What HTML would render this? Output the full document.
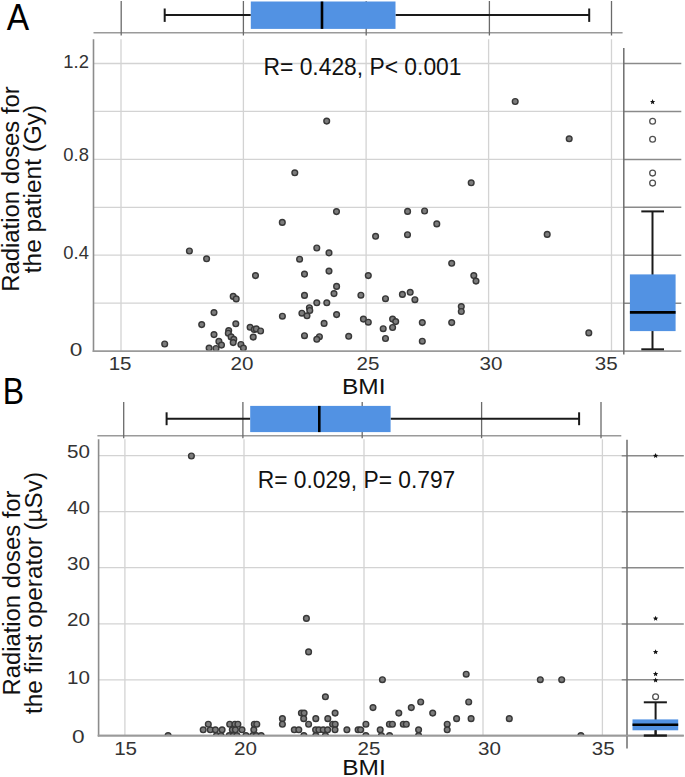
<!DOCTYPE html>
<html><head><meta charset="utf-8"><title>BMI vs radiation dose</title>
<style>html,body{margin:0;padding:0;background:#fff;}body{width:685px;height:777px;overflow:hidden;position:relative;font-family:"Liberation Sans", sans-serif;}</style>
</head><body>
<svg width="685" height="777" viewBox="0 0 685 777" style="position:absolute;left:0;top:0;font-family:"Liberation Sans", sans-serif">
<rect width="685" height="777" fill="#fff"/>
<line x1="93.5" y1="32.7" x2="622.6" y2="32.7" stroke="#9a9a9a" stroke-width="1.6"/>
<line x1="121.2" y1="1" x2="121.2" y2="35.5" stroke="#6a6a6a" stroke-width="1.3"/>
<line x1="243.4" y1="1" x2="243.4" y2="35.5" stroke="#6a6a6a" stroke-width="1.3"/>
<line x1="366.2" y1="1" x2="366.2" y2="35.5" stroke="#6a6a6a" stroke-width="1.3"/>
<line x1="489.4" y1="1" x2="489.4" y2="35.5" stroke="#6a6a6a" stroke-width="1.3"/>
<line x1="611.5" y1="1" x2="611.5" y2="35.5" stroke="#6a6a6a" stroke-width="1.3"/>
<line x1="164.7" y1="15.0" x2="250.8" y2="15.0" stroke="#1a1a1a" stroke-width="2"/>
<line x1="395.5" y1="15.0" x2="589.2" y2="15.0" stroke="#1a1a1a" stroke-width="2"/>
<line x1="164.7" y1="8.5" x2="164.7" y2="21.9" stroke="#1a1a1a" stroke-width="2"/>
<line x1="589.2" y1="8.5" x2="589.2" y2="21.9" stroke="#1a1a1a" stroke-width="2"/>
<rect x="250.8" y="1.5" width="144.7" height="27.4" fill="#5292E3"/>
<line x1="322.0" y1="1.5" x2="322.0" y2="28.9" stroke="#000" stroke-width="2.6"/>
<line x1="121.0" y1="39.3" x2="121.0" y2="351.1" stroke="#d3d3d3" stroke-width="1.3"/>
<line x1="243.4" y1="39.3" x2="243.4" y2="351.1" stroke="#d3d3d3" stroke-width="1.3"/>
<line x1="366.1" y1="39.3" x2="366.1" y2="351.1" stroke="#d3d3d3" stroke-width="1.3"/>
<line x1="488.6" y1="39.3" x2="488.6" y2="351.1" stroke="#d3d3d3" stroke-width="1.3"/>
<line x1="611.5" y1="39.3" x2="611.5" y2="351.1" stroke="#d3d3d3" stroke-width="1.3"/>
<line x1="93.5" y1="63.5" x2="623.8" y2="63.5" stroke="#d3d3d3" stroke-width="1.3"/>
<line x1="93.5" y1="111.4" x2="623.8" y2="111.4" stroke="#d3d3d3" stroke-width="1.3"/>
<line x1="93.5" y1="159.4" x2="623.8" y2="159.4" stroke="#d3d3d3" stroke-width="1.3"/>
<line x1="93.5" y1="207.3" x2="623.8" y2="207.3" stroke="#d3d3d3" stroke-width="1.3"/>
<line x1="93.5" y1="255.2" x2="623.8" y2="255.2" stroke="#d3d3d3" stroke-width="1.3"/>
<line x1="93.5" y1="303.2" x2="623.8" y2="303.2" stroke="#d3d3d3" stroke-width="1.3"/>
<circle cx="189.4" cy="251.0" r="2.85" fill="#7c7c7c" stroke="#383838" stroke-width="1.4"/>
<circle cx="206.6" cy="258.8" r="2.85" fill="#7c7c7c" stroke="#383838" stroke-width="1.4"/>
<circle cx="255.5" cy="275.6" r="2.85" fill="#7c7c7c" stroke="#383838" stroke-width="1.4"/>
<circle cx="233.2" cy="296.4" r="2.85" fill="#7c7c7c" stroke="#383838" stroke-width="1.4"/>
<circle cx="236.2" cy="298.9" r="2.85" fill="#7c7c7c" stroke="#383838" stroke-width="1.4"/>
<circle cx="214.0" cy="312.6" r="2.85" fill="#7c7c7c" stroke="#383838" stroke-width="1.4"/>
<circle cx="282.4" cy="316.2" r="2.85" fill="#7c7c7c" stroke="#383838" stroke-width="1.4"/>
<circle cx="201.7" cy="324.6" r="2.85" fill="#7c7c7c" stroke="#383838" stroke-width="1.4"/>
<circle cx="235.8" cy="323.8" r="2.85" fill="#7c7c7c" stroke="#383838" stroke-width="1.4"/>
<circle cx="214.0" cy="334.6" r="2.85" fill="#7c7c7c" stroke="#383838" stroke-width="1.4"/>
<circle cx="228.7" cy="330.6" r="2.85" fill="#7c7c7c" stroke="#383838" stroke-width="1.4"/>
<circle cx="228.3" cy="333.2" r="2.85" fill="#7c7c7c" stroke="#383838" stroke-width="1.4"/>
<circle cx="231.1" cy="336.9" r="2.85" fill="#7c7c7c" stroke="#383838" stroke-width="1.4"/>
<circle cx="233.8" cy="339.3" r="2.85" fill="#7c7c7c" stroke="#383838" stroke-width="1.4"/>
<circle cx="233.2" cy="342.6" r="2.85" fill="#7c7c7c" stroke="#383838" stroke-width="1.4"/>
<circle cx="218.9" cy="341.4" r="2.85" fill="#7c7c7c" stroke="#383838" stroke-width="1.4"/>
<circle cx="221.5" cy="345.1" r="2.85" fill="#7c7c7c" stroke="#383838" stroke-width="1.4"/>
<circle cx="209.1" cy="348.1" r="2.85" fill="#7c7c7c" stroke="#383838" stroke-width="1.4"/>
<circle cx="216.0" cy="348.5" r="2.85" fill="#7c7c7c" stroke="#383838" stroke-width="1.4"/>
<circle cx="240.9" cy="344.5" r="2.85" fill="#7c7c7c" stroke="#383838" stroke-width="1.4"/>
<circle cx="243.4" cy="348.1" r="2.85" fill="#7c7c7c" stroke="#383838" stroke-width="1.4"/>
<circle cx="250.1" cy="327.3" r="2.85" fill="#7c7c7c" stroke="#383838" stroke-width="1.4"/>
<circle cx="254.2" cy="329.5" r="2.85" fill="#7c7c7c" stroke="#383838" stroke-width="1.4"/>
<circle cx="256.3" cy="328.9" r="2.85" fill="#7c7c7c" stroke="#383838" stroke-width="1.4"/>
<circle cx="260.6" cy="331.0" r="2.85" fill="#7c7c7c" stroke="#383838" stroke-width="1.4"/>
<circle cx="253.2" cy="337.1" r="2.85" fill="#7c7c7c" stroke="#383838" stroke-width="1.4"/>
<circle cx="164.7" cy="344.0" r="2.85" fill="#7c7c7c" stroke="#383838" stroke-width="1.4"/>
<circle cx="375.6" cy="236.3" r="2.85" fill="#7c7c7c" stroke="#383838" stroke-width="1.4"/>
<circle cx="407.5" cy="234.7" r="2.85" fill="#7c7c7c" stroke="#383838" stroke-width="1.4"/>
<circle cx="316.8" cy="248.0" r="2.85" fill="#7c7c7c" stroke="#383838" stroke-width="1.4"/>
<circle cx="329.0" cy="252.9" r="2.85" fill="#7c7c7c" stroke="#383838" stroke-width="1.4"/>
<circle cx="299.6" cy="259.2" r="2.85" fill="#7c7c7c" stroke="#383838" stroke-width="1.4"/>
<circle cx="304.5" cy="274.1" r="2.85" fill="#7c7c7c" stroke="#383838" stroke-width="1.4"/>
<circle cx="329.0" cy="271.1" r="2.85" fill="#7c7c7c" stroke="#383838" stroke-width="1.4"/>
<circle cx="368.3" cy="275.6" r="2.85" fill="#7c7c7c" stroke="#383838" stroke-width="1.4"/>
<circle cx="336.6" cy="286.4" r="2.85" fill="#7c7c7c" stroke="#383838" stroke-width="1.4"/>
<circle cx="334.0" cy="293.6" r="2.85" fill="#7c7c7c" stroke="#383838" stroke-width="1.4"/>
<circle cx="304.5" cy="295.4" r="2.85" fill="#7c7c7c" stroke="#383838" stroke-width="1.4"/>
<circle cx="360.9" cy="295.2" r="2.85" fill="#7c7c7c" stroke="#383838" stroke-width="1.4"/>
<circle cx="385.5" cy="298.7" r="2.85" fill="#7c7c7c" stroke="#383838" stroke-width="1.4"/>
<circle cx="402.4" cy="294.4" r="2.85" fill="#7c7c7c" stroke="#383838" stroke-width="1.4"/>
<circle cx="410.2" cy="292.3" r="2.85" fill="#7c7c7c" stroke="#383838" stroke-width="1.4"/>
<circle cx="414.9" cy="299.7" r="2.85" fill="#7c7c7c" stroke="#383838" stroke-width="1.4"/>
<circle cx="316.8" cy="302.8" r="2.85" fill="#7c7c7c" stroke="#383838" stroke-width="1.4"/>
<circle cx="326.8" cy="302.8" r="2.85" fill="#7c7c7c" stroke="#383838" stroke-width="1.4"/>
<circle cx="309.4" cy="307.7" r="2.85" fill="#7c7c7c" stroke="#383838" stroke-width="1.4"/>
<circle cx="309.8" cy="310.5" r="2.85" fill="#7c7c7c" stroke="#383838" stroke-width="1.4"/>
<circle cx="301.9" cy="313.2" r="2.85" fill="#7c7c7c" stroke="#383838" stroke-width="1.4"/>
<circle cx="307.0" cy="315.8" r="2.85" fill="#7c7c7c" stroke="#383838" stroke-width="1.4"/>
<circle cx="336.6" cy="314.6" r="2.85" fill="#7c7c7c" stroke="#383838" stroke-width="1.4"/>
<circle cx="324.1" cy="323.4" r="2.85" fill="#7c7c7c" stroke="#383838" stroke-width="1.4"/>
<circle cx="363.4" cy="319.1" r="2.85" fill="#7c7c7c" stroke="#383838" stroke-width="1.4"/>
<circle cx="368.3" cy="322.2" r="2.85" fill="#7c7c7c" stroke="#383838" stroke-width="1.4"/>
<circle cx="392.6" cy="319.1" r="2.85" fill="#7c7c7c" stroke="#383838" stroke-width="1.4"/>
<circle cx="395.7" cy="321.6" r="2.85" fill="#7c7c7c" stroke="#383838" stroke-width="1.4"/>
<circle cx="392.6" cy="327.5" r="2.85" fill="#7c7c7c" stroke="#383838" stroke-width="1.4"/>
<circle cx="383.2" cy="328.7" r="2.85" fill="#7c7c7c" stroke="#383838" stroke-width="1.4"/>
<circle cx="304.5" cy="335.7" r="2.85" fill="#7c7c7c" stroke="#383838" stroke-width="1.4"/>
<circle cx="319.4" cy="336.7" r="2.85" fill="#7c7c7c" stroke="#383838" stroke-width="1.4"/>
<circle cx="316.8" cy="339.3" r="2.85" fill="#7c7c7c" stroke="#383838" stroke-width="1.4"/>
<circle cx="348.7" cy="336.3" r="2.85" fill="#7c7c7c" stroke="#383838" stroke-width="1.4"/>
<circle cx="385.5" cy="338.5" r="2.85" fill="#7c7c7c" stroke="#383838" stroke-width="1.4"/>
<circle cx="451.7" cy="263.3" r="2.85" fill="#7c7c7c" stroke="#383838" stroke-width="1.4"/>
<circle cx="473.8" cy="275.6" r="2.85" fill="#7c7c7c" stroke="#383838" stroke-width="1.4"/>
<circle cx="476.0" cy="281.1" r="2.85" fill="#7c7c7c" stroke="#383838" stroke-width="1.4"/>
<circle cx="461.3" cy="306.6" r="2.85" fill="#7c7c7c" stroke="#383838" stroke-width="1.4"/>
<circle cx="461.3" cy="311.5" r="2.85" fill="#7c7c7c" stroke="#383838" stroke-width="1.4"/>
<circle cx="422.3" cy="322.6" r="2.85" fill="#7c7c7c" stroke="#383838" stroke-width="1.4"/>
<circle cx="451.7" cy="322.6" r="2.85" fill="#7c7c7c" stroke="#383838" stroke-width="1.4"/>
<circle cx="422.3" cy="341.2" r="2.85" fill="#7c7c7c" stroke="#383838" stroke-width="1.4"/>
<circle cx="547.2" cy="234.4" r="2.85" fill="#7c7c7c" stroke="#383838" stroke-width="1.4"/>
<circle cx="588.8" cy="332.9" r="2.85" fill="#7c7c7c" stroke="#383838" stroke-width="1.4"/>
<circle cx="326.7" cy="121.1" r="2.85" fill="#7c7c7c" stroke="#383838" stroke-width="1.4"/>
<circle cx="294.8" cy="172.8" r="2.85" fill="#7c7c7c" stroke="#383838" stroke-width="1.4"/>
<circle cx="336.5" cy="211.6" r="2.85" fill="#7c7c7c" stroke="#383838" stroke-width="1.4"/>
<circle cx="282.3" cy="222.4" r="2.85" fill="#7c7c7c" stroke="#383838" stroke-width="1.4"/>
<circle cx="515.2" cy="101.5" r="2.85" fill="#7c7c7c" stroke="#383838" stroke-width="1.4"/>
<circle cx="569.2" cy="138.8" r="2.85" fill="#7c7c7c" stroke="#383838" stroke-width="1.4"/>
<circle cx="471.2" cy="182.8" r="2.85" fill="#7c7c7c" stroke="#383838" stroke-width="1.4"/>
<circle cx="407.6" cy="211.4" r="2.85" fill="#7c7c7c" stroke="#383838" stroke-width="1.4"/>
<circle cx="424.6" cy="211.0" r="2.85" fill="#7c7c7c" stroke="#383838" stroke-width="1.4"/>
<circle cx="436.8" cy="223.9" r="2.85" fill="#7c7c7c" stroke="#383838" stroke-width="1.4"/>
<line x1="623.8" y1="63.5" x2="681.3" y2="63.5" stroke="#8a8a8a" stroke-width="1.5"/>
<line x1="623.8" y1="111.4" x2="681.3" y2="111.4" stroke="#8a8a8a" stroke-width="1.5"/>
<line x1="623.8" y1="159.4" x2="681.3" y2="159.4" stroke="#8a8a8a" stroke-width="1.5"/>
<line x1="623.8" y1="207.3" x2="681.3" y2="207.3" stroke="#8a8a8a" stroke-width="1.5"/>
<line x1="623.8" y1="255.2" x2="681.3" y2="255.2" stroke="#8a8a8a" stroke-width="1.5"/>
<line x1="623.8" y1="303.2" x2="681.3" y2="303.2" stroke="#8a8a8a" stroke-width="1.5"/>
<line x1="93.5" y1="39.3" x2="93.5" y2="351.90000000000003" stroke="#8c8c8c" stroke-width="1.6"/>
<line x1="92.7" y1="351.1" x2="681.3" y2="351.1" stroke="#9a9a9a" stroke-width="1.6"/>
<line x1="623.8" y1="48.0" x2="623.8" y2="354.5" stroke="#6e6e6e" stroke-width="1.5"/>
<line x1="652.5" y1="211.4" x2="652.5" y2="349.3" stroke="#1a1a1a" stroke-width="2"/>
<line x1="641.3" y1="211.4" x2="664.0" y2="211.4" stroke="#1a1a1a" stroke-width="2"/>
<line x1="641.3" y1="349.3" x2="664.0" y2="349.3" stroke="#1a1a1a" stroke-width="2"/>
<rect x="629.9" y="274.4" width="45.700000000000045" height="56.700000000000045" fill="#5292E3"/>
<line x1="629.9" y1="312.4" x2="675.6" y2="312.4" stroke="#000" stroke-width="2.6"/>
<circle cx="652.6" cy="121.3" r="2.9" fill="none" stroke="#505050" stroke-width="1.3"/>
<circle cx="652.6" cy="139.3" r="2.9" fill="none" stroke="#505050" stroke-width="1.3"/>
<circle cx="652.6" cy="173.1" r="2.9" fill="none" stroke="#505050" stroke-width="1.3"/>
<circle cx="652.6" cy="183.1" r="2.9" fill="none" stroke="#505050" stroke-width="1.3"/>
<polygon points="652.60,99.10 653.34,100.88 655.26,101.03 653.80,102.29 654.25,104.17 652.60,103.16 650.95,104.17 651.40,102.29 649.94,101.03 651.86,100.88" fill="#111"/>
<line x1="97.4" y1="435.7" x2="621.3" y2="435.7" stroke="#9a9a9a" stroke-width="1.6"/>
<line x1="123.7" y1="402.0" x2="123.7" y2="438.2" stroke="#6a6a6a" stroke-width="1.3"/>
<line x1="242.9" y1="402.0" x2="242.9" y2="438.2" stroke="#6a6a6a" stroke-width="1.3"/>
<line x1="362.2" y1="402.0" x2="362.2" y2="438.2" stroke="#6a6a6a" stroke-width="1.3"/>
<line x1="481.6" y1="402.0" x2="481.6" y2="438.2" stroke="#6a6a6a" stroke-width="1.3"/>
<line x1="601.0" y1="402.0" x2="601.0" y2="438.2" stroke="#6a6a6a" stroke-width="1.3"/>
<line x1="166.6" y1="418.7" x2="250.2" y2="418.7" stroke="#1a1a1a" stroke-width="2"/>
<line x1="390.6" y1="418.7" x2="579.1" y2="418.7" stroke="#1a1a1a" stroke-width="2"/>
<line x1="166.6" y1="412.3" x2="166.6" y2="425.2" stroke="#1a1a1a" stroke-width="2"/>
<line x1="579.1" y1="412.3" x2="579.1" y2="425.2" stroke="#1a1a1a" stroke-width="2"/>
<rect x="250.2" y="405.9" width="140.40000000000003" height="26.200000000000045" fill="#5292E3"/>
<line x1="319.3" y1="405.9" x2="319.3" y2="432.1" stroke="#000" stroke-width="2.6"/>
<line x1="124.9" y1="439.2" x2="124.9" y2="735.6" stroke="#d3d3d3" stroke-width="1.3"/>
<line x1="244.0" y1="439.2" x2="244.0" y2="735.6" stroke="#d3d3d3" stroke-width="1.3"/>
<line x1="364.0" y1="439.2" x2="364.0" y2="735.6" stroke="#d3d3d3" stroke-width="1.3"/>
<line x1="483.0" y1="439.2" x2="483.0" y2="735.6" stroke="#d3d3d3" stroke-width="1.3"/>
<line x1="602.4" y1="439.2" x2="602.4" y2="735.6" stroke="#d3d3d3" stroke-width="1.3"/>
<line x1="98.6" y1="455.7" x2="627.0" y2="455.7" stroke="#d3d3d3" stroke-width="1.3"/>
<line x1="98.6" y1="511.7" x2="627.0" y2="511.7" stroke="#d3d3d3" stroke-width="1.3"/>
<line x1="98.6" y1="567.7" x2="627.0" y2="567.7" stroke="#d3d3d3" stroke-width="1.3"/>
<line x1="98.6" y1="623.9" x2="627.0" y2="623.9" stroke="#d3d3d3" stroke-width="1.3"/>
<line x1="98.6" y1="679.8" x2="627.0" y2="679.8" stroke="#d3d3d3" stroke-width="1.3"/>
<circle cx="191.4" cy="456.0" r="2.85" fill="#7c7c7c" stroke="#383838" stroke-width="1.4"/>
<circle cx="306.4" cy="618.4" r="2.85" fill="#7c7c7c" stroke="#383838" stroke-width="1.4"/>
<circle cx="308.6" cy="651.9" r="2.85" fill="#7c7c7c" stroke="#383838" stroke-width="1.4"/>
<circle cx="382.4" cy="679.7" r="2.85" fill="#7c7c7c" stroke="#383838" stroke-width="1.4"/>
<circle cx="466.2" cy="674.2" r="2.85" fill="#7c7c7c" stroke="#383838" stroke-width="1.4"/>
<circle cx="540.3" cy="679.7" r="2.85" fill="#7c7c7c" stroke="#383838" stroke-width="1.4"/>
<circle cx="561.7" cy="679.7" r="2.85" fill="#7c7c7c" stroke="#383838" stroke-width="1.4"/>
<circle cx="325.4" cy="696.8" r="2.85" fill="#7c7c7c" stroke="#383838" stroke-width="1.4"/>
<circle cx="420.7" cy="702.0" r="2.85" fill="#7c7c7c" stroke="#383838" stroke-width="1.4"/>
<circle cx="468.7" cy="702.0" r="2.85" fill="#7c7c7c" stroke="#383838" stroke-width="1.4"/>
<circle cx="373.0" cy="707.6" r="2.85" fill="#7c7c7c" stroke="#383838" stroke-width="1.4"/>
<circle cx="411.3" cy="707.6" r="2.85" fill="#7c7c7c" stroke="#383838" stroke-width="1.4"/>
<circle cx="301.4" cy="713.08" r="2.85" fill="#7c7c7c" stroke="#383838" stroke-width="1.4"/>
<circle cx="304.1" cy="713.08" r="2.85" fill="#7c7c7c" stroke="#383838" stroke-width="1.4"/>
<circle cx="335.1" cy="713.08" r="2.85" fill="#7c7c7c" stroke="#383838" stroke-width="1.4"/>
<circle cx="398.8" cy="713.08" r="2.85" fill="#7c7c7c" stroke="#383838" stroke-width="1.4"/>
<circle cx="432.7" cy="713.08" r="2.85" fill="#7c7c7c" stroke="#383838" stroke-width="1.4"/>
<circle cx="282.4" cy="718.66" r="2.85" fill="#7c7c7c" stroke="#383838" stroke-width="1.4"/>
<circle cx="303.7" cy="718.66" r="2.85" fill="#7c7c7c" stroke="#383838" stroke-width="1.4"/>
<circle cx="315.8" cy="718.66" r="2.85" fill="#7c7c7c" stroke="#383838" stroke-width="1.4"/>
<circle cx="327.8" cy="718.66" r="2.85" fill="#7c7c7c" stroke="#383838" stroke-width="1.4"/>
<circle cx="456.6" cy="718.66" r="2.85" fill="#7c7c7c" stroke="#383838" stroke-width="1.4"/>
<circle cx="471.1" cy="718.66" r="2.85" fill="#7c7c7c" stroke="#383838" stroke-width="1.4"/>
<circle cx="509.3" cy="718.66" r="2.85" fill="#7c7c7c" stroke="#383838" stroke-width="1.4"/>
<circle cx="208.3" cy="724.24" r="2.85" fill="#7c7c7c" stroke="#383838" stroke-width="1.4"/>
<circle cx="229.7" cy="724.24" r="2.85" fill="#7c7c7c" stroke="#383838" stroke-width="1.4"/>
<circle cx="234.9" cy="724.24" r="2.85" fill="#7c7c7c" stroke="#383838" stroke-width="1.4"/>
<circle cx="237.9" cy="724.24" r="2.85" fill="#7c7c7c" stroke="#383838" stroke-width="1.4"/>
<circle cx="254.3" cy="724.24" r="2.85" fill="#7c7c7c" stroke="#383838" stroke-width="1.4"/>
<circle cx="256.8" cy="724.24" r="2.85" fill="#7c7c7c" stroke="#383838" stroke-width="1.4"/>
<circle cx="282.4" cy="724.24" r="2.85" fill="#7c7c7c" stroke="#383838" stroke-width="1.4"/>
<circle cx="308.6" cy="724.24" r="2.85" fill="#7c7c7c" stroke="#383838" stroke-width="1.4"/>
<circle cx="332.6" cy="724.24" r="2.85" fill="#7c7c7c" stroke="#383838" stroke-width="1.4"/>
<circle cx="335.2" cy="724.24" r="2.85" fill="#7c7c7c" stroke="#383838" stroke-width="1.4"/>
<circle cx="365.9" cy="724.24" r="2.85" fill="#7c7c7c" stroke="#383838" stroke-width="1.4"/>
<circle cx="389.4" cy="724.24" r="2.85" fill="#7c7c7c" stroke="#383838" stroke-width="1.4"/>
<circle cx="392.4" cy="724.24" r="2.85" fill="#7c7c7c" stroke="#383838" stroke-width="1.4"/>
<circle cx="403.3" cy="724.24" r="2.85" fill="#7c7c7c" stroke="#383838" stroke-width="1.4"/>
<circle cx="406.3" cy="724.24" r="2.85" fill="#7c7c7c" stroke="#383838" stroke-width="1.4"/>
<circle cx="447.2" cy="724.24" r="2.85" fill="#7c7c7c" stroke="#383838" stroke-width="1.4"/>
<circle cx="203.2" cy="729.82" r="2.85" fill="#7c7c7c" stroke="#383838" stroke-width="1.4"/>
<circle cx="210.3" cy="729.82" r="2.85" fill="#7c7c7c" stroke="#383838" stroke-width="1.4"/>
<circle cx="215.4" cy="729.82" r="2.85" fill="#7c7c7c" stroke="#383838" stroke-width="1.4"/>
<circle cx="222.1" cy="729.82" r="2.85" fill="#7c7c7c" stroke="#383838" stroke-width="1.4"/>
<circle cx="232.3" cy="729.82" r="2.85" fill="#7c7c7c" stroke="#383838" stroke-width="1.4"/>
<circle cx="235.4" cy="729.82" r="2.85" fill="#7c7c7c" stroke="#383838" stroke-width="1.4"/>
<circle cx="242.0" cy="729.82" r="2.85" fill="#7c7c7c" stroke="#383838" stroke-width="1.4"/>
<circle cx="253.8" cy="729.82" r="2.85" fill="#7c7c7c" stroke="#383838" stroke-width="1.4"/>
<circle cx="294.3" cy="729.82" r="2.85" fill="#7c7c7c" stroke="#383838" stroke-width="1.4"/>
<circle cx="298.8" cy="729.82" r="2.85" fill="#7c7c7c" stroke="#383838" stroke-width="1.4"/>
<circle cx="315.6" cy="729.82" r="2.85" fill="#7c7c7c" stroke="#383838" stroke-width="1.4"/>
<circle cx="318.9" cy="729.82" r="2.85" fill="#7c7c7c" stroke="#383838" stroke-width="1.4"/>
<circle cx="323.2" cy="729.82" r="2.85" fill="#7c7c7c" stroke="#383838" stroke-width="1.4"/>
<circle cx="327.6" cy="729.82" r="2.85" fill="#7c7c7c" stroke="#383838" stroke-width="1.4"/>
<circle cx="335.0" cy="729.82" r="2.85" fill="#7c7c7c" stroke="#383838" stroke-width="1.4"/>
<circle cx="346.9" cy="729.82" r="2.85" fill="#7c7c7c" stroke="#383838" stroke-width="1.4"/>
<circle cx="358.1" cy="729.82" r="2.85" fill="#7c7c7c" stroke="#383838" stroke-width="1.4"/>
<circle cx="360.6" cy="729.82" r="2.85" fill="#7c7c7c" stroke="#383838" stroke-width="1.4"/>
<circle cx="380.2" cy="729.82" r="2.85" fill="#7c7c7c" stroke="#383838" stroke-width="1.4"/>
<circle cx="418.6" cy="729.82" r="2.85" fill="#7c7c7c" stroke="#383838" stroke-width="1.4"/>
<circle cx="447.2" cy="729.82" r="2.85" fill="#7c7c7c" stroke="#383838" stroke-width="1.4"/>
<line x1="621.7" y1="455.7" x2="683.8" y2="455.7" stroke="#8a8a8a" stroke-width="1.5"/>
<line x1="621.7" y1="511.7" x2="683.8" y2="511.7" stroke="#8a8a8a" stroke-width="1.5"/>
<line x1="621.7" y1="567.7" x2="683.8" y2="567.7" stroke="#8a8a8a" stroke-width="1.5"/>
<line x1="621.7" y1="623.9" x2="683.8" y2="623.9" stroke="#8a8a8a" stroke-width="1.5"/>
<line x1="621.7" y1="679.8" x2="683.8" y2="679.8" stroke="#8a8a8a" stroke-width="1.5"/>
<line x1="98.6" y1="439.2" x2="98.6" y2="736.4" stroke="#8c8c8c" stroke-width="1.6"/>
<line x1="97.8" y1="735.6" x2="683.8" y2="735.6" stroke="#9a9a9a" stroke-width="1.6"/>
<line x1="627.0" y1="439.8" x2="627.0" y2="748.5" stroke="#6e6e6e" stroke-width="1.5"/>
<line x1="655.6" y1="702.3" x2="655.6" y2="735.6" stroke="#1a1a1a" stroke-width="2"/>
<line x1="643.8" y1="702.3" x2="666.9" y2="702.3" stroke="#1a1a1a" stroke-width="2"/>
<line x1="643.8" y1="735.6" x2="666.9" y2="735.6" stroke="#1a1a1a" stroke-width="2"/>
<rect x="632.5" y="719.4" width="45.700000000000045" height="10.899999999999977" fill="#5292E3"/>
<line x1="632.5" y1="724.8" x2="678.2" y2="724.8" stroke="#000" stroke-width="2.6"/>
<circle cx="655.6" cy="696.8" r="2.9" fill="none" stroke="#505050" stroke-width="1.3"/>
<polygon points="655.60,453.00 656.34,454.78 658.26,454.93 656.80,456.19 657.25,458.07 655.60,457.06 653.95,458.07 654.40,456.19 652.94,454.93 654.86,454.78" fill="#111"/>
<polygon points="655.60,615.70 656.34,617.48 658.26,617.63 656.80,618.89 657.25,620.77 655.60,619.76 653.95,620.77 654.40,618.89 652.94,617.63 654.86,617.48" fill="#111"/>
<polygon points="655.60,649.30 656.34,651.08 658.26,651.23 656.80,652.49 657.25,654.37 655.60,653.36 653.95,654.37 654.40,652.49 652.94,651.23 654.86,651.08" fill="#111"/>
<polygon points="655.60,671.30 656.34,673.08 658.26,673.23 656.80,674.49 657.25,676.37 655.60,675.36 653.95,676.37 654.40,674.49 652.94,673.23 654.86,673.08" fill="#111"/>
<polygon points="655.60,677.50 656.34,679.28 658.26,679.43 656.80,680.69 657.25,682.57 655.60,681.56 653.95,682.57 654.40,680.69 652.94,679.43 654.86,679.28" fill="#111"/>
<clipPath id="cb"><rect x="90" y="400" width="540" height="335.6"/></clipPath>
<g clip-path="url(#cb)">
<circle cx="168.1" cy="735.6" r="2.85" fill="#7c7c7c" stroke="#383838" stroke-width="1.4"/>
<circle cx="216.5" cy="735.6" r="2.85" fill="#7c7c7c" stroke="#383838" stroke-width="1.4"/>
<circle cx="221.0" cy="735.6" r="2.85" fill="#7c7c7c" stroke="#383838" stroke-width="1.4"/>
<circle cx="229.2" cy="735.6" r="2.85" fill="#7c7c7c" stroke="#383838" stroke-width="1.4"/>
<circle cx="233.3" cy="735.6" r="2.85" fill="#7c7c7c" stroke="#383838" stroke-width="1.4"/>
<circle cx="236.9" cy="735.6" r="2.85" fill="#7c7c7c" stroke="#383838" stroke-width="1.4"/>
<circle cx="246.0" cy="735.6" r="2.85" fill="#7c7c7c" stroke="#383838" stroke-width="1.4"/>
<circle cx="252.7" cy="735.6" r="2.85" fill="#7c7c7c" stroke="#383838" stroke-width="1.4"/>
<circle cx="256.3" cy="735.6" r="2.85" fill="#7c7c7c" stroke="#383838" stroke-width="1.4"/>
<circle cx="261.2" cy="735.6" r="2.85" fill="#7c7c7c" stroke="#383838" stroke-width="1.4"/>
<circle cx="303.9" cy="735.6" r="2.85" fill="#7c7c7c" stroke="#383838" stroke-width="1.4"/>
<circle cx="315.8" cy="735.6" r="2.85" fill="#7c7c7c" stroke="#383838" stroke-width="1.4"/>
<circle cx="325.4" cy="735.6" r="2.85" fill="#7c7c7c" stroke="#383838" stroke-width="1.4"/>
<circle cx="365.9" cy="735.6" r="2.85" fill="#7c7c7c" stroke="#383838" stroke-width="1.4"/>
<circle cx="381.4" cy="735.6" r="2.85" fill="#7c7c7c" stroke="#383838" stroke-width="1.4"/>
<circle cx="389.6" cy="735.6" r="2.85" fill="#7c7c7c" stroke="#383838" stroke-width="1.4"/>
<circle cx="418.6" cy="735.6" r="2.85" fill="#7c7c7c" stroke="#383838" stroke-width="1.4"/>
<circle cx="580.9" cy="735.6" r="2.85" fill="#7c7c7c" stroke="#383838" stroke-width="1.4"/>
</g>
<line x1="97.8" y1="735.6" x2="683.8" y2="735.6" stroke="#9a9a9a" stroke-width="1.6"/>
<line x1="643.8" y1="735.6" x2="666.9" y2="735.6" stroke="#1a1a1a" stroke-width="2"/>
<line x1="655.6" y1="730.3" x2="655.6" y2="735.6" stroke="#1a1a1a" stroke-width="2"/>
<text x="6.7" y="29.8" font-size="36" fill="#000" text-anchor="start" textLength="22.4" lengthAdjust="spacingAndGlyphs" >A</text>
<text x="2.7" y="403.5" font-size="36" fill="#000" text-anchor="start" textLength="21.3" lengthAdjust="spacingAndGlyphs" >B</text>
<text x="263.5" y="74.6" font-size="23.5" fill="#111" text-anchor="start" textLength="198.0" lengthAdjust="spacingAndGlyphs" >R= 0.428, P&lt; 0.001</text>
<text x="257.7" y="488.3" font-size="23.5" fill="#111" text-anchor="start" textLength="197.6" lengthAdjust="spacingAndGlyphs" >R= 0.029, P= 0.797</text>
<text x="76.1" y="67.9" font-size="18.4" fill="#333" text-anchor="middle" >1.2</text>
<text x="76.1" y="161.2" font-size="18.4" fill="#333" text-anchor="middle" >0.8</text>
<text x="76.1" y="258.8" font-size="18.4" fill="#333" text-anchor="middle" >0.4</text>
<text x="76.1" y="355.6" font-size="18.4" fill="#333" text-anchor="middle" textLength="12.6" lengthAdjust="spacingAndGlyphs" >0</text>
<text x="78.4" y="457.6" font-size="18.4" fill="#333" text-anchor="middle" textLength="22.9" lengthAdjust="spacingAndGlyphs" >50</text>
<text x="78.4" y="513.6" font-size="18.4" fill="#333" text-anchor="middle" textLength="22.9" lengthAdjust="spacingAndGlyphs" >40</text>
<text x="78.4" y="569.6" font-size="18.4" fill="#333" text-anchor="middle" textLength="22.9" lengthAdjust="spacingAndGlyphs" >30</text>
<text x="78.4" y="625.6" font-size="18.4" fill="#333" text-anchor="middle" textLength="22.9" lengthAdjust="spacingAndGlyphs" >20</text>
<text x="78.4" y="683.8" font-size="18.4" fill="#333" text-anchor="middle" textLength="22.9" lengthAdjust="spacingAndGlyphs" >10</text>
<text x="78.4" y="742.8" font-size="18.4" fill="#333" text-anchor="middle" textLength="12.6" lengthAdjust="spacingAndGlyphs" >0</text>
<text x="120.1" y="369.6" font-size="18.4" fill="#333" text-anchor="middle" textLength="22.9" lengthAdjust="spacingAndGlyphs" >15</text>
<text x="241.9" y="369.6" font-size="18.4" fill="#333" text-anchor="middle" textLength="22.9" lengthAdjust="spacingAndGlyphs" >20</text>
<text x="368.0" y="369.6" font-size="18.4" fill="#333" text-anchor="middle" textLength="22.9" lengthAdjust="spacingAndGlyphs" >25</text>
<text x="491.0" y="369.6" font-size="18.4" fill="#333" text-anchor="middle" textLength="22.9" lengthAdjust="spacingAndGlyphs" >30</text>
<text x="606.3" y="369.6" font-size="18.4" fill="#333" text-anchor="middle" textLength="22.9" lengthAdjust="spacingAndGlyphs" >35</text>
<text x="125.6" y="755.1" font-size="18.4" fill="#333" text-anchor="middle" textLength="22.9" lengthAdjust="spacingAndGlyphs" >15</text>
<text x="245.4" y="755.1" font-size="18.4" fill="#333" text-anchor="middle" textLength="22.9" lengthAdjust="spacingAndGlyphs" >20</text>
<text x="368.9" y="755.1" font-size="18.4" fill="#333" text-anchor="middle" textLength="22.9" lengthAdjust="spacingAndGlyphs" >25</text>
<text x="489.4" y="755.1" font-size="18.4" fill="#333" text-anchor="middle" textLength="22.9" lengthAdjust="spacingAndGlyphs" >30</text>
<text x="603.2" y="755.1" font-size="18.4" fill="#333" text-anchor="middle" textLength="22.9" lengthAdjust="spacingAndGlyphs" >35</text>
<text x="363.8" y="394.2" font-size="22" fill="#111" text-anchor="middle" textLength="43.5" lengthAdjust="spacingAndGlyphs" >BMI</text>
<text x="364.0" y="775.3" font-size="22" fill="#111" text-anchor="middle" textLength="43.5" lengthAdjust="spacingAndGlyphs" >BMI</text>
<text transform="translate(19.0,189.0) rotate(-90)" x="0" y="0" font-size="23" fill="#111" text-anchor="middle" textLength="205.5" lengthAdjust="spacingAndGlyphs">Radiation doses for</text>
<text transform="translate(41.4,189.0) rotate(-90)" x="0" y="0" font-size="23" fill="#111" text-anchor="middle" textLength="168.5" lengthAdjust="spacingAndGlyphs">the patient (Gy)</text>
<text transform="translate(20.3,593.0) rotate(-90)" x="0" y="0" font-size="23" fill="#111" text-anchor="middle" textLength="205.0" lengthAdjust="spacingAndGlyphs">Radiation doses for</text>
<text transform="translate(42.3,593.0) rotate(-90)" x="0" y="0" font-size="23" fill="#111" text-anchor="middle" textLength="242.0" lengthAdjust="spacingAndGlyphs">the first operator (µSv)</text>
</svg>
</body></html>
